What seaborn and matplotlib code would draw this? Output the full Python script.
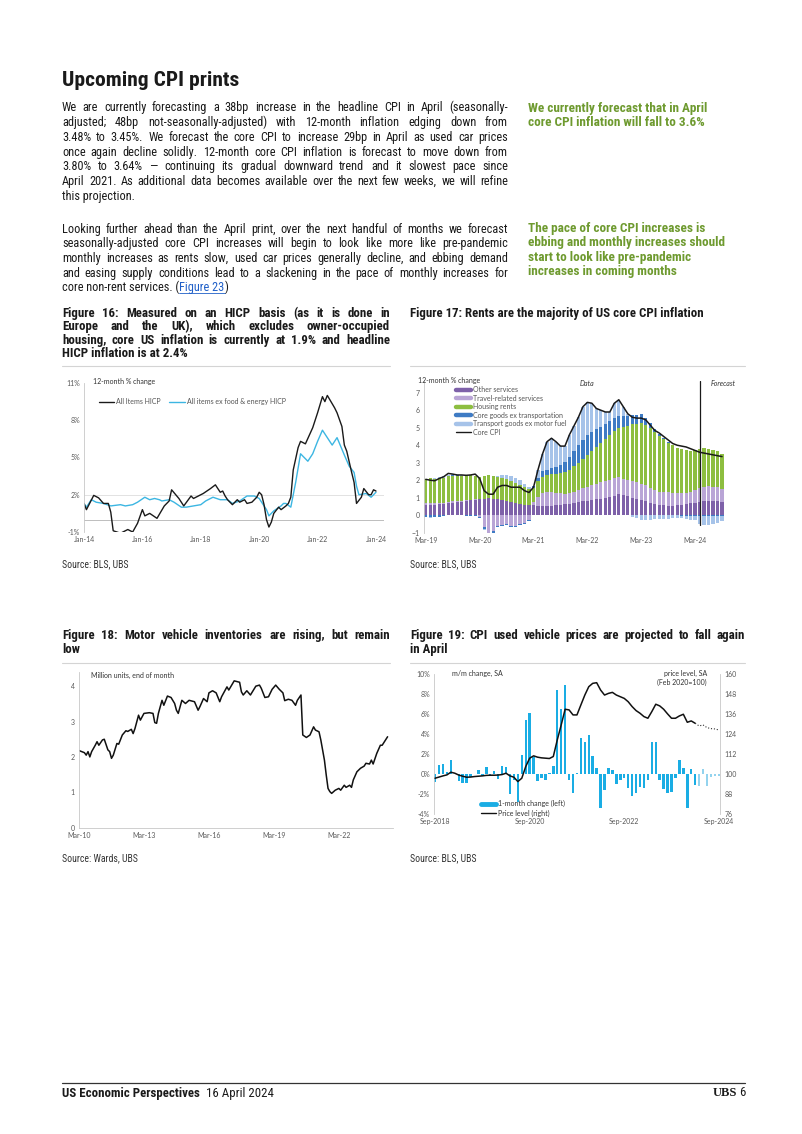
import numpy as np
import pandas as pd
import matplotlib
matplotlib.use("Agg")
import matplotlib.pyplot as plt
import matplotlib.font_manager as fm
from matplotlib.lines import Line2D
import seaborn as sns

W, H = 802, 1134

# ---------------- data ----------------
# Figure 16: months since Jan-2014
hicp_all_m = [0, 1, 4, 6, 8, 10, 11, 12, 15, 18, 20, 22, 24, 25, 27, 30, 33, 35, 36, 39, 41, 44, 45, 47,
              49, 52, 54, 56, 57, 58, 59, 61, 63, 64, 66, 67, 69, 71, 72, 73, 74, 75, 76, 77, 78, 80, 81,
              83, 84, 85, 86, 88, 89, 91, 94, 95, 96, 98, 99, 100, 103, 104, 106, 107, 108, 110, 111,
              112, 114, 115, 117, 118, 119, 120]
hicp_all_v = [1.3, 0.8, 1.95, 1.75, 1.3, 1.3, 0.6, -0.9, -1.1, -0.8, -1.0, -0.3, 0.8, 0.3, 0.5, 0.1, 1.1,
              1.5, 2.4, 1.7, 1.1, 1.9, 1.7, 1.9, 2.1, 2.5, 2.8, 2.2, 2.3, 1.9, 1.6, 1.2, 1.6, 1.4, 1.6,
              1.3, 1.4, 1.8, 2.2, 2.0, 1.2, 0.0, -0.6, -0.2, 0.5, 1.0, 0.8, 1.1, 1.3, 1.8, 4.0, 5.8,
              6.3, 6.1, 7.4, 8.0, 8.6, 9.9, 9.5, 10.0, 9.0, 8.6, 7.5, 6.0, 5.5, 3.8, 3.0, 1.3, 1.8,
              2.5, 2.0, 2.0, 2.4, 2.3]
hicp_core_m = [0, 1, 3, 5, 8, 11, 15, 17, 20, 22, 25, 27, 29, 31, 32, 35, 37, 40, 42, 45, 48, 50, 53,
               56, 59, 61, 64, 67, 70, 72, 75, 76, 78, 81, 82, 83, 85, 87, 89, 92, 94, 96, 98, 100,
               102, 104, 107, 109, 111, 112, 113, 116, 118, 120]
hicp_core_v = [1.3, 1.0, 1.6, 1.4, 1.3, 1.1, 1.2, 1.1, 1.2, 1.4, 1.8, 1.6, 1.7, 1.6, 1.5, 1.6, 1.4,
               1.0, 1.0, 1.1, 1.2, 1.5, 1.8, 1.6, 1.6, 1.3, 1.5, 1.9, 1.9, 1.7, 0.8, 0.3, 0.7, 1.1,
               1.3, 1.3, 1.0, 3.0, 5.3, 4.7, 5.3, 6.3, 7.2, 6.6, 6.0, 6.6, 5.2, 4.3, 3.8, 2.7, 2.0,
               2.1, 1.8, 2.2]
f16_ticks = [0, 24, 48, 72, 96, 120]
f16_labels = ["Jan-14", "Jan-16", "Jan-18", "Jan-20", "Jan-22", "Jan-24"]

# Figure 17: monthly contributions, Mar-2019 .. Sep-2024
other_services = [0.60, 0.58, 0.60, 0.62, 0.65, 0.70, 0.72, 0.75, 0.78, 0.80, 0.85, 0.88,
                  0.90, 0.95, 1.00, 0.95, 0.90, 0.85, 0.80, 0.75, 0.70, 0.65, 0.60, 0.58,
                  0.58, 0.55, 0.55, 0.55, 0.55, 0.58, 0.60, 0.62, 0.65, 0.70, 0.75, 0.80,
                  0.82, 0.85, 0.90, 0.95, 1.00, 1.05, 1.12, 1.20, 1.15, 1.10, 1.00, 0.92,
                  0.86, 0.80, 0.72, 0.65, 0.60, 0.57, 0.55, 0.55, 0.56, 0.58, 0.62, 0.68,
                  0.72, 0.76, 0.80, 0.82, 0.82, 0.80, 0.78]
travel_services = [0.08, 0.10, 0.08, 0.06, 0.05, 0.06, 0.08, 0.06, 0.05, 0.05, 0.04, 0.03,
                   -0.10, -0.70, -1.00, -0.90, -0.60, -0.55, -0.50, -0.60, -0.60, -0.50, -0.45, -0.30,
                   0.15, 0.50, 0.70, 0.75, 0.75, 0.70, 0.65, 0.60, 0.60, 0.65, 0.70, 0.75,
                   0.80, 0.85, 0.90, 0.92, 0.95, 0.96, 0.98, 0.96, 0.94, 0.92, 0.95, 0.95,
                   0.95, 0.90, 0.85, 0.80, 0.75, 0.77, 0.75, 0.72, 0.70, 0.68, 0.66, 0.65,
                   0.70, 0.78, 0.82, 0.84, 0.82, 0.80, 0.74]
housing_rents = [1.40, 1.45, 1.40, 1.42, 1.45, 1.48, 1.45, 1.45, 1.42, 1.40, 1.38, 1.35,
                 1.30, 1.30, 1.28, 1.30, 1.30, 1.28, 1.25, 1.20, 1.15, 1.10, 1.00, 0.90,
                 0.85, 0.90, 0.95, 1.00, 1.05, 1.10, 1.15, 1.25, 1.35, 1.45, 1.55, 1.65,
                 1.80, 1.95, 2.10, 2.25, 2.40, 2.55, 2.70, 2.80, 2.95, 3.10, 3.25, 3.35,
                 3.45, 3.45, 3.40, 3.30, 3.15, 3.00, 2.85, 2.72, 2.60, 2.50, 2.42, 2.35,
                 2.28, 2.25, 2.20, 2.15, 2.10, 2.05, 2.00]
core_goods = [-0.08, -0.10, -0.12, -0.10, -0.05, 0.02, 0.05, 0.03, 0.00, -0.03, -0.05, -0.05,
              -0.05, -0.08, -0.10, -0.10, -0.08, -0.05, -0.05, -0.06, -0.05, -0.04, -0.05, -0.05,
              0.10, 0.20, 0.30, 0.30, 0.35, 0.40, 0.45, 0.55, 0.70, 0.85, 1.00, 1.10,
              1.15, 1.10, 1.00, 0.95, 0.85, 0.80, 0.75, 0.70, 0.65, 0.55, 0.50, 0.50,
              0.50, 0.40, 0.30, 0.20, 0.15, 0.10, 0.05, 0.02, 0.00, -0.02, -0.05, -0.05,
              -0.05, -0.06, -0.06, -0.06, -0.05, -0.05, -0.05]
transport_goods = [-0.05, -0.05, 0.05, 0.10, 0.08, 0.05, 0.05, 0.03, 0.02, 0.00, -0.02, -0.02,
                   0.00, -0.05, -0.05, 0.00, 0.05, 0.15, 0.25, 0.30, 0.30, 0.25, 0.20, 0.15,
                   0.00, 0.45, 1.00, 1.60, 1.70, 1.42, 1.10, 0.93, 1.30, 1.45, 1.60, 1.90,
                   1.88, 1.65, 1.20, 0.93, 0.70, 0.54, 0.85, 0.94, 0.50, 0.13, -0.10, -0.17,
                   -0.25, -0.28, -0.25, -0.22, -0.20, -0.20, -0.20, -0.18, -0.15, -0.12, -0.15, -0.20,
                   -0.25, -0.45, -0.48, -0.48, -0.45, -0.40, -0.30]
core_cpi = [2.05, 2.00, 1.97, 2.10, 2.20, 2.39, 2.35, 2.30, 2.30, 2.28, 2.30, 2.35,
            2.10, 1.40, 1.20, 1.20, 1.60, 1.70, 1.70, 1.60, 1.60, 1.60, 1.40, 1.30,
            1.60, 2.60, 3.50, 4.20, 4.40, 4.20, 3.95, 3.95, 4.60, 5.10, 5.60, 6.20,
            6.45, 6.40, 6.10, 6.00, 5.90, 5.90, 6.40, 6.60, 6.20, 5.80, 5.60, 5.55,
            5.55, 5.45, 5.15, 4.85, 4.70, 4.50, 4.30, 4.10, 4.00, 3.95, 3.90, 3.80,
            3.70, 3.60, 3.55, 3.50, 3.45, 3.40, 3.35]
f17_names = ["Other services", "Travel-related services", "Housing rents",
             "Core goods ex transportation", "Transport goods ex motor fuel"]
f17_labels = ["Mar-19", "Mar-20", "Mar-21", "Mar-22", "Mar-23", "Mar-24"]
f17_forecast_start = 61

# Figure 18: months since Mar-2010, million units
inv_m = [0, 3, 4, 5, 6, 7, 9, 10, 11, 13, 14, 16, 17, 18, 19, 21, 22, 24, 26, 27, 29, 30, 31, 33, 34,
         36, 39, 41, 42, 43, 44, 46, 47, 49, 51, 53, 54, 55, 57, 59, 61, 64, 66, 67, 69, 71, 72, 74,
         76, 78, 79, 82, 83, 86, 89, 90, 91, 93, 95, 98, 100, 101, 103, 105, 107, 109, 111, 113,
         114, 116, 118, 120, 121, 123, 124, 126, 128, 130, 131, 133, 134, 136, 137, 138, 139, 140,
         142, 144, 145, 147, 148, 150, 151, 152, 154, 156, 158, 159, 161, 162, 163, 165, 167, 168, 171]
inv_v = [2.18, 2.12, 2.05, 2.15, 2.0, 2.15, 2.33, 2.43, 2.33, 2.48, 2.5, 2.2, 2.15, 1.96, 2.05, 2.38,
         2.36, 2.62, 2.74, 2.72, 2.78, 2.66, 2.8, 3.18, 3.04, 3.23, 3.25, 3.23, 2.97, 2.95, 3.23, 3.6,
         3.46, 3.72, 3.68, 3.51, 3.32, 3.23, 3.6, 3.51, 3.6, 3.56, 3.32, 3.42, 3.65, 3.56, 3.81, 3.87,
         3.81, 3.56, 3.7, 3.98, 3.89, 4.15, 4.11, 3.84, 3.75, 3.87, 3.75, 4.0, 4.03, 3.94, 3.68, 3.7,
         3.91, 4.03, 3.91, 3.81, 3.59, 3.63, 3.6, 3.46, 3.6, 3.75, 2.62, 2.55, 2.62, 2.85, 2.76, 2.71,
         2.48, 1.91, 1.49, 1.11, 1.02, 0.97, 1.06, 1.11, 1.06, 1.2, 1.14, 1.2, 1.14, 1.35, 1.58, 1.68,
         1.74, 1.82, 1.8, 1.91, 1.8, 2.1, 2.33, 2.33, 2.57]
f18_ticks = [0, 36, 72, 108, 144]
f18_labels = ["Mar-10", "Mar-13", "Mar-16", "Mar-19", "Mar-22"]

# Figure 19: monthly, Sep-2018 .. Sep-2024
used_mm = [-0.8, 0.9, 1.0, 0.2, 1.4, 0.0, -0.7, -0.9, -0.9, -0.3,
           0.0, 0.4, -0.2, 0.7, -0.1, 0.3, -0.5, 0.8, 0.7, -2.0,
           -0.6, -2.8, 1.9, 5.4, 6.1, 1.7, -0.7, -0.4, -0.6, 0.1,
           0.8, 8.4, 6.5, 8.9, -0.6, -1.9, 0.1, 3.6, 3.2, 3.9,
           1.8, 0.6, -3.4, -1.6, 0.6, 0.4, -1.0, -0.6, -0.4, -1.4,
           -2.2, -1.9, -1.3, -1.4, -0.6, 3.2, 3.2, -0.6, -1.5, -1.9,
           -1.8, -0.4, 1.4, 0.6, -3.4, 0.5, -1.1, -1.2, 0.5, -1.2,
           -0.3, -0.2, -0.2]
used_level = [97.6, 98.3, 99.0, 99.6, 101.2, 100.6, 99.5, 98.8, 98.2, 98.3,
              98.6, 98.8, 99.0, 99.3, 99.4, 99.4, 99.5, 99.8, 100.6, 99.0,
              98.2, 95.6, 97.6, 104.6, 109.6, 111.0, 110.2, 109.8, 109.6, 109.4,
              110.6, 120.5, 129.5, 138.9, 138.5, 135.5, 135.5, 141.5, 147.4, 152.4,
              154.4, 154.8, 150.4, 147.4, 148.4, 149.0, 147.4, 146.4, 145.4, 143.4,
              140.5, 138.1, 136.5, 134.5, 133.5, 137.5, 141.9, 140.9, 138.9, 136.1,
              133.5, 133.5, 134.9, 135.9, 131.1, 131.9, 130.5, 128.9, 129.5, 127.9,
              127.3, 127.1, 126.5]
f19_last_actual = 66
f19_ticks = [0, 24, 48, 72]
f19_labels = ["Sep-2018", "Sep-2020", "Sep-2022", "Sep-2024"]

# ---------------- text ----------------
para1 = ["We are currently forecasting a 38bp increase in the headline CPI in April (seasonally-",
         "adjusted; 48bp not-seasonally-adjusted) with 12-month inflation edging down from",
         "3.48% to 3.45%. We forecast the core CPI to increase 29bp in April as used car prices",
         "once again decline solidly. 12-month core CPI inflation is forecast to move down from",
         "3.80% to 3.64% \u2014 continuing its gradual downward trend and it slowest pace since",
         "April 2021. As additional data becomes available over the next few weeks, we will refine",
         "this projection."]
para2 = ["Looking further ahead than the April print, over the next handful of months we forecast",
         "seasonally-adjusted core CPI increases will begin to look like more like pre-pandemic",
         "monthly increases as rents slow, used car prices generally decline, and ebbing demand",
         "and easing supply conditions lead to a slackening in the pace of monthly increases for"]
note1 = ["We currently forecast that in April", "core CPI inflation will fall to 3.6%"]
note2 = ["The pace of core CPI increases is", "ebbing and monthly increases should",
         "start to look like pre-pandemic", "increases in coming months"]
title16 = ["Figure 16: Measured on an HICP basis (as it is done in",
           "Europe and the UK), which excludes owner-occupied",
           "housing, core US inflation is currently at 1.9% and headline",
           "HICP inflation is at 2.4%"]
title17 = ["Figure 17: Rents are the majority of US core CPI inflation"]
title18 = ["Figure 18: Motor vehicle inventories are rising, but remain", "low"]
title19 = ["Figure 19: CPI used vehicle prices are projected to fall again", "in April"]

# ---------------- style ----------------
sns.set_theme(style="white")
names = {f.name for f in fm.fontManager.ttflist}
cands = ["Liberation Sans Narrow", "Roboto Condensed", "Noto Sans Condensed",
         "Open Sans Condensed", "Roboto", "DejaVu Sans"]
TXT = next(c for c in cands if c in names)
CH = "Lato"
plt.rcParams["font.family"] = [CH, "DejaVu Sans"]

INK = "#1a1a1a"
GREEN = "#6e9a2f"
TICK = "#595959"
SPINE = "#c8c8c8"

fig = plt.figure(figsize=(W / 100, H / 100), dpi=100)
fig.patch.set_facecolor("white")
rend = fig.canvas.get_renderer()


def fx(x):
    return x / W


def fy(y):
    return 1 - y / H


def ax_at(l, t, r, b):
    return fig.add_axes([fx(l), fy(b), (r - l) / W, (b - t) / H])


def width_of(s, **kw):
    t = fig.text(0, 0, s, **kw)
    w_ = t.get_window_extent(rend).width
    t.remove()
    return w_


def words_width(s, gap, **kw):
    ws = s.split(" ")
    return sum(width_of(w_, **kw) for w_ in ws) + gap * (len(ws) - 1)


def fit_justified(items, base, gap=2.8, **kw):
    # font size at which the tightest line fills its width with small gaps
    return base * min(wd / words_width(s, gap, fontsize=base, **kw) for s, wd in items)


def base_y(y, fs):
    # y is the visual middle of the line; words share a whole-pixel baseline
    return fy(round(y + 0.27 * fs * 100 / 72))


def text_line(x0, x1, y, s, justify=True, **kw):
    yb = base_y(y, kw["fontsize"])
    if not justify:
        return fig.text(fx(x0), yb, s, va="baseline", ha="left", **kw)
    words = s.split(" ")
    objs = [fig.text(0, yb, w_, va="baseline", ha="left", **kw) for w_ in words]
    widths = [o.get_window_extent(rend).width for o in objs]
    gap = max((x1 - x0 - sum(widths)) / (len(words) - 1), 1.5)
    x = x0
    for o, wd in zip(objs, widths):
        o.set_x(fx(x))
        x += wd + gap


def block(lines, x0, x1, y0, dy, justify_last=False, **kw):
    for i, s in enumerate(lines):
        last = i == len(lines) - 1
        text_line(x0, x1, y0 + i * dy, s, justify=(not last) or justify_last, **kw)


def hline(x0, x1, y, color, lw):
    fig.add_artist(Line2D([fx(x0), fx(x1)], [fy(y), fy(y)], color=color, lw=lw,
                          transform=fig.transFigure))


# font sizes matched to the widths in the page
body_fs = min(fit_justified([(s, 446) for s in para1[:-1] + para2], 8.4, family=TXT), 8.8)
title_fs = fit_justified([(title16[0], 328), (title16[1], 328), (title16[2], 328),
                          (title18[0], 328), (title19[0], 333)], 8.8, gap=2.0,
                         family=TXT, weight="bold")
title_fs = min(title_fs, 8.8 * 317 / width_of(title17[0], fontsize=8.8, family=TXT, weight="bold"),
               9.3)
head_fs = 14 * 177 / width_of("Upcoming CPI prints", fontsize=14, family=TXT, weight="bold")
note_fs = min(8.6 * 210 / width_of(note2[1], fontsize=8.6, family=TXT, weight="bold"), 9.5)
foot_fs = 9 * 137 / width_of("US Economic Perspectives", fontsize=9, family=TXT, weight="bold")
src_fs = 7 * 67 / width_of("Source: BLS, UBS", fontsize=7, family=TXT)

body = dict(family=TXT, fontsize=body_fs, color=INK)
bold_title = dict(family=TXT, fontsize=title_fs, color=INK, weight="bold")

# page text
fig.text(fx(62), fy(80), "Upcoming CPI prints", family=TXT, fontsize=head_fs, weight="bold",
         color=INK, va="center")
block(para1, 62, 508, 108, 14.8, **body)
block(para2, 62, 508, 229.5, 14.6, justify_last=True, **body)
# last line with the link
x = 62
y = 229.5 + 4 * 14.6
for s, col in [("core non-rent services. (", INK), ("Figure 23", "#1f5fc8"), (")", INK)]:
    t = fig.text(fx(x), base_y(y, body_fs), s, va="baseline", family=TXT, fontsize=body_fs,
                 color=col)
    wd = t.get_window_extent(rend).width
    if col != INK:
        hline(x, x + wd, y + 5, col, 0.6)
    x += wd

note = dict(family=TXT, fontsize=note_fs, color=GREEN, weight="bold")
for i, s in enumerate(note1):
    text_line(528, 740, 108.3 + i * 14.6, s, justify=False, **note)
for i, s in enumerate(note2):
    text_line(528, 740, 228.3 + i * 14.5, s, justify=False, **note)

# figure titles
block(title16, 62, 390, 313.3, 13.4, **bold_title)
block(title17, 410, 745, 313.3, 13.4, **bold_title)
block(title18, 62, 390, 635.5, 14.2, **bold_title)
block(title19, 410, 745, 635.5, 14.2, **bold_title)
hline(62, 390, 365.7, "#d4d4d4", 0.8)
hline(410, 745, 365.7, "#d4d4d4", 0.8)
hline(62, 390, 662.7, "#d4d4d4", 0.8)
hline(410, 745, 662.7, "#d4d4d4", 0.8)

src = dict(family=TXT, fontsize=src_fs, color="#333333", va="center")
fig.text(fx(62), fy(564), "Source: BLS, UBS", **src)
fig.text(fx(410), fy(564), "Source: BLS, UBS", **src)
fig.text(fx(62), fy(858), "Source: Wards, UBS", **src)
fig.text(fx(410), fy(858), "Source: BLS, UBS", **src)

# footer
hline(62, 745, 1083, "#333333", 0.9)
fig.text(fx(62), fy(1093), "US Economic Perspectives", family=TXT, fontsize=foot_fs,
         weight="bold", color=INK, va="center")
fig.text(fx(206), fy(1093), "16 April 2024", family=TXT, fontsize=foot_fs, color=INK,
         va="center")
fig.text(fx(737), fy(1093), "UBS", family="Liberation Serif", fontsize=9, weight="bold",
         color=INK, va="center", ha="right")
fig.text(fx(745), fy(1093), "6", family=TXT, fontsize=foot_fs, color=INK, va="center", ha="right")


def style_ax(ax, left=True, bottom=False, right=False):
    for side, on in [("left", left), ("bottom", bottom), ("right", right), ("top", False)]:
        ax.spines[side].set_visible(on)
        ax.spines[side].set_color(SPINE)
        ax.spines[side].set_linewidth(0.6)
    ax.tick_params(length=0, labelsize=5, colors=TICK, pad=3)
    ax.set_xlabel("")
    ax.set_ylabel("")
    ax.set_facecolor("none")


lab = dict(fontsize=5, color="#333333", va="center")

# ---------------- Figure 16 ----------------
ax16 = ax_at(84, 383, 384, 532)
df16 = pd.concat([
    pd.DataFrame({"m": hicp_core_m, "v": hicp_core_v, "s": "All items ex food & energy HICP"}),
    pd.DataFrame({"m": hicp_all_m, "v": hicp_all_v, "s": "All Items HICP"}),
])
ax16.axhline(2, color="#e2e2e2", lw=0.7, zorder=0)
ax16.axhline(0, color="#bdbdbd", lw=0.7, zorder=0)
sns.lineplot(data=df16, x="m", y="v", hue="s", palette=["#3cb6e2", "#1a1a1a"], lw=1.0,
             legend=False, ax=ax16)
ax16.set_xlim(0, 123.3)
ax16.set_ylim(-1, 11)
ax16.set_yticks([-1, 2, 5, 8, 11], [f"{v}%" for v in [-1, 2, 5, 8, 11]])
ax16.set_xticks(f16_ticks, f16_labels)
style_ax(ax16)
fig.text(fx(93), fy(381), "12-month % change", **lab)
ax16.legend([Line2D([], [], color="#1a1a1a", lw=1.0), Line2D([], [], color="#3cb6e2", lw=1.0)],
            ["All Items HICP", "All items ex food & energy HICP"], ncol=2, frameon=False,
            loc="center left", bbox_to_anchor=(fx(99), fy(402)), bbox_transform=fig.transFigure,
            fontsize=5, handlelength=2.2, handletextpad=0.3, columnspacing=1.2,
            borderpad=0, borderaxespad=0, labelcolor="#555555")

# ---------------- Figure 17 ----------------
ax17 = ax_at(424, 380.5, 740, 532.7)
n17 = len(core_cpi)
x17 = np.arange(n17)
cols17 = ["#7e61a9", "#b9a5d6", "#8dbe40", "#3e7bc4", "#a6c3e9"]
pos_b = np.zeros(n17)
neg_b = np.zeros(n17)
for vals, c in zip([other_services, travel_services, housing_rents, core_goods, transport_goods],
                   cols17):
    v = np.array(vals)
    p = np.clip(v, 0, None)
    q = np.clip(v, None, 0)
    ax17.bar(x17, p, bottom=pos_b, width=0.72, color=c, linewidth=0)
    ax17.bar(x17, q, bottom=neg_b, width=0.72, color=c, linewidth=0)
    pos_b += p
    neg_b += q
sns.lineplot(x=x17, y=core_cpi, color="#1a1a1a", lw=1.1, ax=ax17)
ax17.set_xlim(-0.4, 70)
ax17.set_ylim(-1, 7.7)
ax17.axvline(f17_forecast_start, ymin=0.05, ymax=1, color="#1a1a1a", lw=0.9)
ax17.set_yticks(range(-1, 8))
ax17.set_xticks(range(0, 61, 12), f17_labels)
style_ax(ax17)
fig.text(fx(418), fy(380), "12-month % change", **lab)
fig.text(fx(587), fy(383), "Data", style="italic", ha="center", **lab)
fig.text(fx(723), fy(384), "Forecast", style="italic", ha="center", **lab)
h17 = [Line2D([], [], color=c, lw=3.2) for c in cols17] + [Line2D([], [], color="#1a1a1a", lw=1)]
ax17.legend(h17, f17_names + ["Core CPI"], loc="upper left",
            bbox_to_anchor=(fx(456), fy(386)), bbox_transform=fig.transFigure, frameon=False,
            fontsize=5, handlelength=2.2, handletextpad=0.3, labelspacing=0.22,
            borderpad=0, borderaxespad=0, labelcolor="#555555")

# ---------------- Figure 18 ----------------
ax18 = ax_at(79, 672, 393, 827.7)
sns.lineplot(x=inv_m, y=inv_v, color="#111111", lw=1.1, ax=ax18)
ax18.set_xlim(0, 174)
ax18.set_ylim(0, 4.4)
ax18.set_yticks(range(0, 5))
ax18.set_xticks(f18_ticks, f18_labels)
style_ax(ax18, bottom=True)
fig.text(fx(91), fy(675), "Million units, end of month", **lab)

# ---------------- Figure 19 ----------------
ax19 = ax_at(434.3, 674, 720, 814.3)
n19 = len(used_mm)
x19 = np.arange(n19)
bar_cols = ["#1aade4" if i <= f19_last_actual else "#93d3ee" for i in range(n19)]
ax19.bar(x19, used_mm, width=0.62, color=bar_cols, linewidth=0)
ax19.set_xlim(-0.2, 72.3)
ax19.set_ylim(-4, 10)
ax19.set_yticks(range(-4, 11, 2), [f"{v}%" for v in range(-4, 11, 2)])
ax19.set_xticks(f19_ticks, f19_labels)
style_ax(ax19)
ax19b = ax19.twinx()
sns.lineplot(x=x19[:f19_last_actual + 1], y=used_level[:f19_last_actual + 1], color="#111111",
             lw=1.1, ax=ax19b)
sns.lineplot(x=x19[f19_last_actual:], y=used_level[f19_last_actual:], color="#333333",
             lw=0.8, linestyle=":", ax=ax19b)
ax19b.set_ylim(76, 160)
ax19b.set_yticks(range(76, 161, 12))
style_ax(ax19b, left=False, right=True)
ax19.spines["right"].set_visible(False)
fig.text(fx(452), fy(673), "m/m change, SA", **lab)
fig.text(fx(707), fy(673), "price level, SA", ha="right", **lab)
fig.text(fx(707), fy(682), "(Feb 2020=100)", ha="right", **lab)
ax19b.legend([Line2D([], [], color="#1aade4", lw=3.5), Line2D([], [], color="#111111", lw=1)],
             ["1-month change (left)", "Price level (right)"], loc="upper left",
             bbox_to_anchor=(fx(481), fy(800)), bbox_transform=fig.transFigure, frameon=False,
             fontsize=5, handlelength=2.2, handletextpad=0.3, labelspacing=0.35,
             borderpad=0, borderaxespad=0, labelcolor="#333333")

fig.savefig("out.png", dpi=100, facecolor="white")
